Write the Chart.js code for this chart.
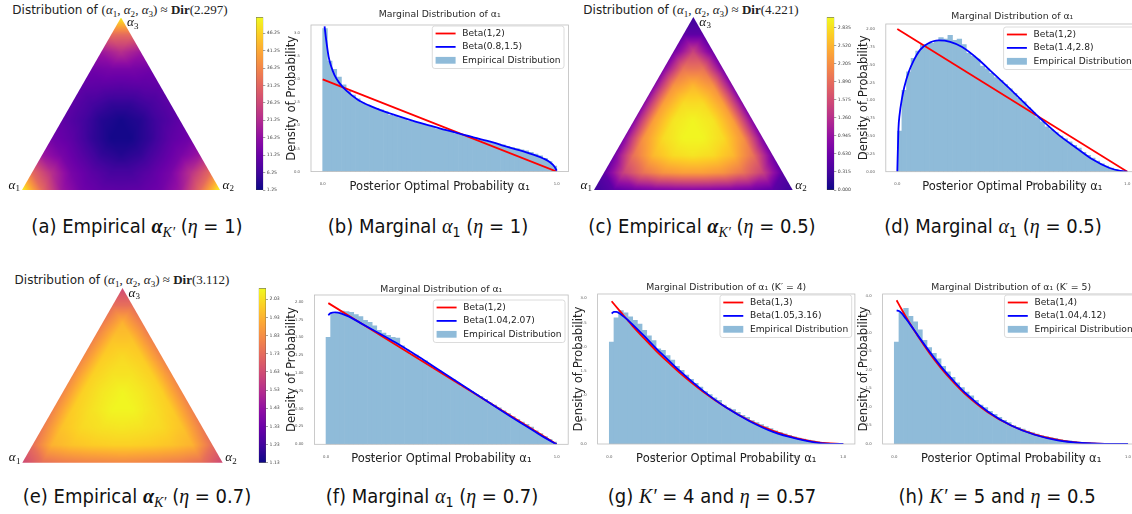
<!DOCTYPE html>
<html><head><meta charset="utf-8">
<script src="https://cdn.jsdelivr.net/npm/chart.js@4.4.0/dist/chart.umd.min.js"></script>
<style>
html,body{margin:0;padding:0;background:#fff;}
body{width:1132px;height:514px;position:relative;overflow:hidden;font-family:'DejaVu Sans',sans-serif;}
canvas{position:absolute;}
.ttl{position:absolute;transform:translateX(-50%);white-space:nowrap;font-family:'DejaVu Sans',sans-serif;font-size:12px;line-height:14px;color:#222;}
.ttl .m{font-family:'Liberation Serif','DejaVu Serif',serif;font-size:13px;}
.ttl sub{font-size:70%;vertical-align:-0.3em;line-height:0;}
.cap{position:absolute;transform:translateX(-50%);white-space:nowrap;font-family:'Liberation Sans Narrow','DejaVu Sans Condensed','Liberation Sans',sans-serif;font-size:20px;line-height:22px;color:#111;}
.cap .m{font-family:'Liberation Serif',serif;font-style:italic;}
.cap sub{font-size:70%;vertical-align:-0.3em;line-height:0;}
</style></head><body>
<div class="ttl" style="left:120px;top:2.5px">Distribution of <span class="m">(<i>α</i><sub>1</sub>, <i>α</i><sub>2</sub>, <i>α</i><sub>3</sub>) ≈ <b>Dir</b>(2.297)</span></div>
<div class="ttl" style="left:691px;top:2.5px">Distribution of <span class="m">(<i>α</i><sub>1</sub>, <i>α</i><sub>2</sub>, <i>α</i><sub>3</sub>) ≈ <b>Dir</b>(4.221)</span></div>
<div class="ttl" style="left:122px;top:273px">Distribution of <span class="m">(<i>α</i><sub>1</sub>, <i>α</i><sub>2</sub>, <i>α</i><sub>3</sub>) ≈ <b>Dir</b>(3.112)</span></div>

<div class="cap" style="left:137px;top:215px">(a) Empirical <b class="m">α</b><sub class="m">K′</sub> (<span class="m">η</span> = 1)</div>
<div class="cap" style="left:428px;top:215px">(b) Marginal <span class="m">α</span><sub>1</sub> (<span class="m">η</span> = 1)</div>
<div class="cap" style="left:702px;top:215px">(c) Empirical <b class="m">α</b><sub class="m">K′</sub> (<span class="m">η</span> = 0.5)</div>
<div class="cap" style="left:993px;top:215px">(d) Marginal <span class="m">α</span><sub>1</sub> (<span class="m">η</span> = 0.5)</div>
<div class="cap" style="left:137px;top:485px">(e) Empirical <b class="m">α</b><sub class="m">K′</sub> (<span class="m">η</span> = 0.7)</div>
<div class="cap" style="left:432px;top:485px">(f) Marginal <span class="m">α</span><sub>1</sub> (<span class="m">η</span> = 0.7)</div>
<div class="cap" style="left:712px;top:485px">(g) <span class="m">K′</span> = 4 and <span class="m">η</span> = 0.57</div>
<div class="cap" style="left:997px;top:485px">(h) <span class="m">K′</span> = 5 and <span class="m">η</span> = 0.5</div>

<script>
// ---------------- DATA ----------------
const X_TICKS = [0, 0.2, 0.4, 0.6, 0.8, 1.0];
const Y_TICKS_B = [0, 0.5, 1.0, 1.5, 2.0, 2.5, 3.0];
const Y_TICKS_D = [0, 0.25, 0.5, 0.75, 1.0, 1.25, 1.5, 1.75, 2.0];
const Y_TICKS_F = [0, 0.25, 0.5, 0.75, 1.0, 1.25, 1.5, 1.75, 2.0];
const Y_TICKS_G = [0, 0.5, 1.0, 1.5, 2.0, 2.5, 3.0];
const Y_TICKS_H = [0, 0.5, 1.0, 1.5, 2.0, 2.5, 3.0, 3.5, 4.0];
const BIN_W = 0.02;

const histB = [3.10,2.40,2.22,2.05,1.88,1.74,1.66,1.58,1.49,1.45,
 1.40,1.37,1.34,1.30,1.22,1.20,1.17,1.15,1.10,1.08,
 1.05,1.03,1.00,0.97,0.93,0.92,0.89,0.86,0.82,0.79,
 0.78,0.76,0.73,0.70,0.67,0.65,0.63,0.60,0.58,0.55,
 0.52,0.50,0.47,0.45,0.42,0.38,0.34,0.29,0.22,0.12];
const histD = [0.57,1.14,1.40,1.59,1.69,1.78,1.78,1.80,1.84,1.88,
 1.86,1.91,1.84,1.86,1.78,1.66,1.62,1.58,1.48,1.44,
 1.38,1.32,1.28,1.22,1.16,1.10,1.03,0.98,0.90,0.83,
 0.76,0.70,0.63,0.59,0.55,0.50,0.46,0.42,0.37,0.33,
 0.27,0.23,0.19,0.15,0.11,0.08,0.05,0.03,0.015,0.005];
const histF = [1.50,1.83,1.84,1.87,1.86,1.85,1.82,1.79,1.74,1.71,
 1.66,1.60,1.56,1.53,1.50,1.49,1.38,1.33,1.26,1.25,
 1.18,1.17,1.10,1.06,1.03,0.98,0.94,0.91,0.86,0.81,
 0.78,0.74,0.70,0.67,0.63,0.58,0.55,0.51,0.47,0.43,
 0.39,0.35,0.31,0.28,0.24,0.19,0.15,0.11,0.07,0.03];
const histG = [2.10,2.60,2.75,2.70,2.62,2.55,2.47,2.34,2.23,2.13,
 1.96,1.93,1.82,1.73,1.60,1.52,1.42,1.33,1.25,1.17,
 1.08,1.02,0.95,0.90,0.80,0.74,0.71,0.65,0.59,0.55,
 0.48,0.44,0.40,0.36,0.32,0.27,0.24,0.21,0.18,0.15,
 0.12,0.10,0.08,0.065,0.05,0.035,0.02,0.012,0.006,0.002];
const histH = [2.75,3.55,3.66,3.45,3.30,3.08,2.80,2.60,2.45,2.30,
 2.10,1.95,1.80,1.65,1.52,1.40,1.30,1.18,1.05,0.98,
 0.88,0.80,0.72,0.64,0.58,0.50,0.45,0.40,0.35,0.31,
 0.27,0.23,0.20,0.17,0.15,0.12,0.10,0.085,0.07,0.055,
 0.045,0.035,0.025,0.02,0.015,0.01,0.007,0.005,0.003,0.001];

const redBx = [0, 1.0];
const redBy = [2.0, 0];
const blueBx = [0.008,0.015,0.025,0.035,0.05,0.07,0.1,0.15,0.2,0.25,0.3,0.4,0.5,0.6,0.7,0.8,0.88,0.94,0.97,0.99,1.0];
const blueBy = [3.15,2.85,2.50,2.30,2.10,1.93,1.76,1.56,1.43,1.33,1.24,1.08,0.94,0.80,0.67,0.52,0.40,0.29,0.21,0.11,0.02];

const redDx = [0, 1.0];
const redDy = [2.0, 0];
const blueDx = [0,0.005,0.01,0.02,0.03,0.05,0.07,0.1,0.13,0.18,0.23,0.28,0.35,0.42,0.5,0.56,0.62,0.7,0.78,0.85,0.92,0.97,1.0];
const blueDy = [0,0.6,0.8,1.02,1.18,1.40,1.55,1.71,1.79,1.84,1.82,1.75,1.58,1.37,1.13,0.94,0.75,0.52,0.33,0.17,0.055,0.01,0];

const redFx = [0.01, 1.0];
const redFy = [1.98, 0];
const blueFx = [0.01,0.02,0.04,0.07,0.1,0.15,0.2,0.3,0.4,0.5,0.6,0.7,0.8,0.9,0.95,1.0];
const blueFy = [1.81,1.84,1.85,1.83,1.79,1.70,1.61,1.43,1.23,1.02,0.81,0.60,0.39,0.19,0.09,0];

const redGx = [0.01,0.05,0.1,0.15,0.2,0.25,0.3,0.4,0.5,0.6,0.7,0.8,0.9,1.0];
const redGy = [2.94,2.71,2.43,2.17,1.92,1.69,1.47,1.08,0.75,0.48,0.27,0.12,0.03,0];
const blueGx = [0.01,0.02,0.03,0.05,0.08,0.1,0.15,0.2,0.25,0.3,0.4,0.5,0.6,0.7,0.8,0.9,1.0];
const blueGy = [2.69,2.72,2.72,2.67,2.55,2.46,2.22,1.97,1.74,1.51,1.10,0.75,0.47,0.25,0.11,0.02,0];

const redHx = [0.01,0.03,0.05,0.1,0.15,0.2,0.25,0.3,0.4,0.5,0.6,0.7,0.8,0.9,1.0];
const redHy = [3.88,3.65,3.43,2.92,2.46,2.05,1.69,1.37,0.86,0.50,0.26,0.11,0.03,0.004,0];
const blueHx = [0.01,0.02,0.03,0.05,0.07,0.1,0.15,0.2,0.25,0.3,0.4,0.5,0.6,0.7,0.8,0.9,1.0];
const blueHy = [3.61,3.59,3.54,3.38,3.21,2.94,2.50,2.09,1.73,1.40,0.88,0.50,0.25,0.10,0.03,0.004,0];

// simplex density lattices: row r = alpha3 level (bottom edge first), entries run from alpha1 corner toward alpha2 corner
const latA = [
 [50,32,18,12,10,9.5,10,12,18,32,50],
 [32,22,13,9.5,7,7,9.5,13,22,32],
 [18,13,9,5,3.5,5,9,13,18],
 [12,9.5,5,2,2,5,9.5,12],
 [10,7,3.5,2,3.5,7,10],
 [9.5,7,5,5,7,9.5],
 [10,9.5,9,9.5,10],
 [12,13,13,12],
 [18,22,18],
 [32,32],
 [50]
];
const latC = [
 [0.28,0.5,0.65,0.75,0.8,0.82,0.8,0.75,0.65,0.5,0.28],
 [0.5,1.45,1.95,2.25,2.35,2.35,2.25,1.95,1.45,0.5],
 [0.65,1.95,2.55,2.8,2.87,2.8,2.55,1.95,0.65],
 [0.75,2.25,2.8,2.98,2.98,2.8,2.25,0.75],
 [0.8,2.35,2.87,2.98,2.87,2.35,0.8],
 [0.82,2.35,2.8,2.8,2.35,0.82],
 [0.8,2.25,2.55,2.25,0.8],
 [0.75,1.95,1.95,0.75],
 [0.65,1.45,0.65],
 [0.5,0.5],
 [0.28]
];
const latE = [
 [1.62,1.74,1.78,1.80,1.81,1.82,1.81,1.80,1.78,1.74,1.62],
 [1.74,1.93,1.97,1.99,2.00,2.00,1.99,1.97,1.93,1.74],
 [1.78,1.97,2.02,2.04,2.05,2.04,2.02,1.97,1.78],
 [1.80,1.99,2.04,2.08,2.08,2.04,1.99,1.80],
 [1.81,2.00,2.05,2.08,2.05,2.00,1.81],
 [1.82,2.00,2.04,2.04,2.00,1.82],
 [1.81,1.99,2.02,1.99,1.81],
 [1.80,1.97,1.97,1.80],
 [1.78,1.93,1.78],
 [1.74,1.74],
 [1.62]
];
const cbTicksA = [1.25,6.25,11.25,16.25,21.25,26.25,31.25,36.25,41.25,46.25];
const cbTicksC = [0,0.315,0.63,0.945,1.26,1.575,1.89,2.205,2.52,2.835];
const cbTicksE = [1.13,1.23,1.33,1.43,1.53,1.63,1.73,1.83,1.93,2.03];
const cbRangeA = [1.25, 50.8];
const cbRangeC = [0, 3.01];
const cbRangeE = [1.13, 2.09];

// ---------------- STYLE / HELPERS ----------------
Chart.defaults.font.family = 'DejaVu Sans';
const PLASMA = [[13,8,135],[65,4,157],[106,0,168],[143,13,164],[177,42,144],[204,71,120],[225,100,98],[242,132,75],[252,166,54],[252,206,37],[240,249,33]];
function plasmaRGB(t){
  t = Math.max(0, Math.min(1, t));
  const s = t*10, i = Math.min(9, Math.floor(s)), f = s - i;
  const a = PLASMA[i], b = PLASMA[i+1];
  return [a[0]+(b[0]-a[0])*f, a[1]+(b[1]-a[1])*f, a[2]+(b[2]-a[2])*f];
}
const H3 = Math.sqrt(3)/2;
function place(id, l, t, w, h){
  const c = document.createElement('canvas');
  c.id = id; c.width = w; c.height = h;
  c.style.left = l + 'px'; c.style.top = t + 'px';
  c.style.width = w + 'px'; c.style.height = h + 'px';
  document.body.appendChild(c);
  return c;
}

// shades the simplex from the lattice values held in the dataset, using the chart's own scales
const triPlugin = {
  id: 'triShade',
  beforeDatasetsDraw(chart, args, opts){
    const a = chart.chartArea, xs = chart.scales.x, ys = chart.scales.y;
    const N = opts.N, span = opts.vmax - opts.vmin;
    const V = [];
    chart.data.datasets[0].data.forEach(p => { (V[p.r] = V[p.r] || [])[p.k] = p.v; });
    const dpr = chart.currentDevicePixelRatio || 1;
    const W = Math.ceil((a.right - a.left)*dpr), H = Math.ceil((a.bottom - a.top)*dpr);
    const off = document.createElement('canvas'); off.width = W; off.height = H;
    const octx = off.getContext('2d'); const img = octx.createImageData(W, H); const d = img.data;
    for (let py = 0; py < H; py++) {
      const Y = ys.getValueForPixel(a.top + (py + 0.5)/dpr);
      for (let px = 0; px < W; px++) {
        const X = xs.getValueForPixel(a.left + (px + 0.5)/dpr);
        let a3 = Math.max(0, Math.min(1, Y / H3));
        let a2 = Math.max(0, Math.min(1 - a3, X - a3/2));
        const u = a2*N, w = a3*N;
        const r = Math.min(N - 1, Math.floor(w));
        const k = Math.max(0, Math.min(N - 1 - r, Math.floor(u)));
        const fu = u - k, fw = w - r;
        let v;
        if (fu + fw <= 1 || k + 1 > N - r - 1) {
          v = V[r][k]*(1 - fu - fw) + V[r][k+1]*fu + V[r+1][k]*fw;
        } else {
          v = V[r+1][k+1]*(fu + fw - 1) + V[r][k+1]*(1 - fw) + V[r+1][k]*(1 - fu);
        }
        const c = plasmaRGB((v - opts.vmin)/span);
        const o = (py*W + px)*4;
        d[o] = c[0]; d[o+1] = c[1]; d[o+2] = c[2]; d[o+3] = 255;
      }
    }
    octx.putImageData(img, 0, 0);
    const ctx = chart.ctx;
    const p1 = [xs.getPixelForValue(0), ys.getPixelForValue(0)];
    const p2 = [xs.getPixelForValue(1), ys.getPixelForValue(0)];
    const p3 = [xs.getPixelForValue(0.5), ys.getPixelForValue(H3)];
    ctx.save();
    ctx.beginPath(); ctx.moveTo(p1[0], p1[1]); ctx.lineTo(p2[0], p2[1]); ctx.lineTo(p3[0], p3[1]); ctx.closePath();
    ctx.clip();
    ctx.drawImage(off, a.left, a.top, a.right - a.left, a.bottom - a.top);
    ctx.restore();
  },
  afterDraw(chart){
    const ctx = chart.ctx, a = chart.chartArea, cx = (a.left + a.right)/2;
    ctx.save(); ctx.fillStyle = '#111'; ctx.textBaseline = 'alphabetic'; ctx.textAlign = 'left';
    const lab = (x, y, s) => {
      ctx.font = 'italic 13px "Liberation Serif"';
      ctx.fillText('α', x, y);
      const w = ctx.measureText('α').width;
      ctx.font = '9px "Liberation Serif"';
      ctx.fillText(s, x + w + 0.3, y + 2.5);
    };
    lab(a.left - 13.5, a.bottom - 1.5, '1');
    lab(a.right + 2.5, a.bottom - 1.5, '2');
    lab(cx + 6, a.top + 8.5, '3');
    ctx.restore();
  }
};

function makeTriangle(id, rect, lattice, range){
  const cl = Math.round(rect.l - 20), ct = Math.round(rect.t - 8);
  const w = Math.round(rect.r + 20 - cl), h = Math.round(rect.b + 6 - ct);
  const cv = place(id, cl, ct, w, h);
  const N = lattice.length - 1;
  const pts = [];
  lattice.forEach((row, r) => row.forEach((v, k) => pts.push({x: (k + r/2)/N, y: r/N*H3, v: v, r: r, k: k})));
  return new Chart(cv, {
    type: 'scatter',
    data: {datasets: [{data: pts, pointRadius: 0}]},
    options: {
      responsive: false, animation: false, events: [],
      layout: {padding: {left: rect.l - cl, right: w - (rect.r - cl), top: rect.t - ct, bottom: h - (rect.b - ct)}},
      plugins: {legend: {display: false}, tooltip: {enabled: false}, triShade: {N: N, vmin: range[0], vmax: range[1]}},
      scales: {x: {type: 'linear', min: 0, max: 1, display: false}, y: {type: 'linear', min: 0, max: H3, display: false}}
    },
    plugins: [triPlugin]
  });
}

function makeColorbar(id, rect, range, ticks, dec){
  const axW = 28;
  const cl = Math.round(rect.l - 2), ct = Math.round(rect.t - 6);
  const bw = rect.r - cl;
  const w = Math.round(bw + axW), h = Math.round(rect.b - ct + 6);
  const cv = place(id, cl, ct, w, h);
  return new Chart(cv, {
    type: 'bar',
    data: {labels: [''], datasets: [{
      data: [[range[0], range[1]]],
      backgroundColor: (c) => {
        const ca = c.chart.chartArea; if (!ca) return '#888';
        const g = c.chart.ctx.createLinearGradient(0, ca.bottom, 0, ca.top);
        PLASMA.forEach((p, i) => g.addColorStop(i/10, 'rgb(' + p.join(',') + ')'));
        return g;
      },
      borderColor: '#3a3a3a', borderWidth: 0.6, borderSkipped: false, barPercentage: 1, categoryPercentage: 1
    }]},
    options: {
      responsive: false, animation: false, events: [],
      layout: {padding: {left: rect.l - cl, top: rect.t - ct, bottom: h - (rect.b - ct), right: w - axW - bw}},
      plugins: {legend: {display: false}, tooltip: {enabled: false}},
      scales: {
        x: {display: false},
        y: {position: 'right', min: range[0], max: range[1],
            afterFit: s => { s.width = axW; },
            afterBuildTicks: s => { s.ticks = ticks.map(v => ({value: v})); },
            ticks: {font: {size: 4.6}, color: '#444', padding: 1.5, callback: v => Number(v).toFixed(dec)},
            grid: {display: true, drawOnChartArea: false, drawTicks: true, tickLength: 2, color: '#444', lineWidth: 0.5},
            border: {display: false}}
      }
    }
  });
}

const boxLegendPlugin = {
  id: 'boxLegend',
  afterDatasetsDraw(chart, args, opts){
    const ctx = chart.ctx, a = chart.chartArea;
    ctx.save();
    ctx.strokeStyle = '#bdbdbd'; ctx.lineWidth = 0.8;
    ctx.strokeRect(a.left, a.top, a.right - a.left, a.bottom - a.top);
    const ds = chart.data.datasets;
    ctx.font = opts.fontSize + 'px "DejaVu Sans"';
    const tw = Math.max(...ds.map(d => ctx.measureText(d.label).width));
    const w = 30 + tw + 3.5, h = 42.5;
    const x = a.right - opts.insetR - w, y = a.top + opts.insetT;
    ctx.beginPath(); ctx.roundRect(x, y, w, h, 2.5);
    ctx.fillStyle = 'rgba(255,255,255,0.8)'; ctx.fill();
    ctx.strokeStyle = '#d3d3d3'; ctx.lineWidth = 0.8; ctx.stroke();
    ds.forEach((d, i) => {
      const cy = y + 7.5 + i*13.4;
      if (d.type === 'bar') { ctx.fillStyle = d.backgroundColor; ctx.fillRect(x + 3.3, cy - 3.4, 20, 6.8); }
      else { ctx.strokeStyle = d.borderColor; ctx.lineWidth = d.borderWidth; ctx.beginPath(); ctx.moveTo(x + 3.3, cy); ctx.lineTo(x + 23.3, cy); ctx.stroke(); }
      ctx.fillStyle = '#222'; ctx.textBaseline = 'middle'; ctx.textAlign = 'left';
      ctx.fillText(d.label, x + 30, cy);
    });
    ctx.restore();
  }
};

function xy(xs, ys){ return xs.map((x, i) => ({x: x, y: ys[i]})); }

function makeHist(s){
  const fsT = 9.3, fsY = 11.7, fsX = 11.5, lh = 1.2;
  const cl = Math.round(s.yTitleX - fsY*lh/2);
  const ct = Math.round(s.titleY - fsT*lh/2);
  const cr = Math.round(s.area.r + 4);
  const cb = Math.round(s.xTitleY + fsX*lh/2);
  const cv = place(s.id, cl, ct, cr - cl, cb - ct);
  const yDec = s.yDec;
  return new Chart(cv, {
    type: 'bar',
    data: {datasets: [
      {type: 'line', label: s.redLabel, data: xy(s.redX, s.redY), borderColor: '#ff0000', borderWidth: 1.8, pointRadius: 0, cubicInterpolationMode: 'monotone', fill: false, order: 2},
      {type: 'line', label: s.blueLabel, data: xy(s.blueX, s.blueY), borderColor: '#0000ff', borderWidth: 1.8, pointRadius: 0, cubicInterpolationMode: 'monotone', fill: false, order: 1},
      {type: 'bar', label: 'Empirical Distribution', data: s.hist.map((v, i) => ({x: (i + 0.5)*BIN_W, y: v})), backgroundColor: '#8fbbd9', borderWidth: 0, barPercentage: 1, categoryPercentage: 1, order: 3}
    ]},
    options: {
      responsive: false, animation: false, events: [],
      layout: {padding: {left: 0, right: cr - s.area.r, top: 0, bottom: 0}},
      plugins: {
        legend: {display: false}, tooltip: {enabled: false},
        title: {display: true, text: s.title, fullSize: false, color: '#2a2a2a', font: {size: fsT, weight: 'normal', lineHeight: lh},
                padding: {top: 0, bottom: s.area.t - ct - fsT*lh}},
        boxLegend: {fontSize: 9.1, insetR: s.insetR, insetT: s.insetT}
      },
      scales: {
        x: {type: 'linear', min: -0.05, max: 1.05, offset: false,
            afterFit: sc => { sc.height = cb - s.area.b; },
            afterBuildTicks: sc => { sc.ticks = X_TICKS.map(v => ({value: v})); },
            ticks: {font: {size: 3.8}, color: '#555', padding: 2.5, maxRotation: 0, autoSkip: false, callback: v => Number(v).toFixed(1)},
            grid: {display: false}, border: {display: false},
            title: {display: true, text: 'Posterior Optimal Probability α₁', color: '#222', font: {size: fsX, lineHeight: lh}, padding: 0}},
        y: {type: 'linear', min: 0, max: s.yMax,
            afterFit: sc => { sc.width = s.area.l - cl; },
            afterBuildTicks: sc => { sc.ticks = s.yTicks.map(v => ({value: v})); },
            ticks: {font: {size: 3.8}, color: '#555', padding: 3, autoSkip: false, callback: v => Number(v).toFixed(yDec)},
            grid: {display: false}, border: {display: false},
            title: {display: true, text: 'Density of Probability', color: '#222', font: {size: fsY, lineHeight: lh}, padding: 0}}
      }
    },
    plugins: [boxLegendPlugin]
  });
}

// ---------------- BUILD ----------------
makeTriangle('triA', {l: 22, t: 17.5, r: 220, b: 190}, latA, cbRangeA);
makeColorbar('cbA', {l: 256, t: 17.3, r: 263.3, b: 190}, cbRangeA, cbTicksA, 2);
makeTriangle('triC', {l: 594, t: 17, r: 792.7, b: 190}, latC, cbRangeC);
makeColorbar('cbC', {l: 826.7, t: 17.3, r: 834.3, b: 190}, cbRangeC, cbTicksC, 3);
makeTriangle('triE', {l: 22.3, t: 288, r: 222.7, b: 462.7}, latE, cbRangeE);
makeColorbar('cbE', {l: 258.7, t: 288.3, r: 266, b: 462.7}, cbRangeE, cbTicksE, 2);

makeHist({id: 'histB', area: {l: 311, t: 25, r: 568.4, b: 171.6}, titleY: 15, yTitleX: 292.3, xTitleY: 187,
  title: 'Marginal Distribution of α₁', yMax: 3.18, yTicks: Y_TICKS_B, yDec: 1, hist: histB,
  redX: redBx, redY: redBy, blueX: blueBx, blueY: blueBy, redLabel: 'Beta(1,2)', blueLabel: 'Beta(0.8,1.5)', insetR: 4.4, insetT: 1});
makeHist({id: 'histD', area: {l: 885.8, t: 24, r: 1138.8, b: 171.7}, titleY: 16.7, yTitleX: 864.3, xTitleY: 186.7,
  title: 'Marginal Distribution of α₁', yMax: 2.07, yTicks: Y_TICKS_D, yDec: 2, hist: histD,
  redX: redDx, redY: redDy, blueX: blueDx, blueY: blueDy, redLabel: 'Beta(1,2)', blueLabel: 'Beta(1.4,2.8)', insetR: 3.5, insetT: 3});
makeHist({id: 'histF', area: {l: 314.5, t: 295, r: 568.2, b: 444.3}, titleY: 289.5, yTitleX: 292.3, xTitleY: 459.2,
  title: 'Marginal Distribution of α₁', yMax: 2.094, yTicks: Y_TICKS_F, yDec: 2, hist: histF,
  redX: redFx, redY: redFy, blueX: blueFx, blueY: blueFy, redLabel: 'Beta(1,2)', blueLabel: 'Beta(1.04,2.07)', insetR: 3.2, insetT: 5});
makeHist({id: 'histG', area: {l: 597.6, t: 294, r: 854.9, b: 444}, titleY: 287.2, yTitleX: 579.5, xTitleY: 458.8,
  title: 'Marginal Distribution of α₁ (K′ = 4)', yMax: 3.09, yTicks: Y_TICKS_G, yDec: 1, hist: histG,
  redX: redGx, redY: redGy, blueX: blueGx, blueY: blueGy, redLabel: 'Beta(1,3)', blueLabel: 'Beta(1.05,3.16)', insetR: 3.2, insetT: 1});
makeHist({id: 'histH', area: {l: 882.6, t: 294, r: 1139.7, b: 444}, titleY: 287.2, yTitleX: 864.5, xTitleY: 458.8,
  title: 'Marginal Distribution of α₁ (K′ = 5)', yMax: 4.05, yTicks: Y_TICKS_H, yDec: 1, hist: histH,
  redX: redHx, redY: redHy, blueX: blueHx, blueY: blueHy, redLabel: 'Beta(1,4)', blueLabel: 'Beta(1.04,4.12)', insetR: 3.5, insetT: 1});
</script>
</body></html>
